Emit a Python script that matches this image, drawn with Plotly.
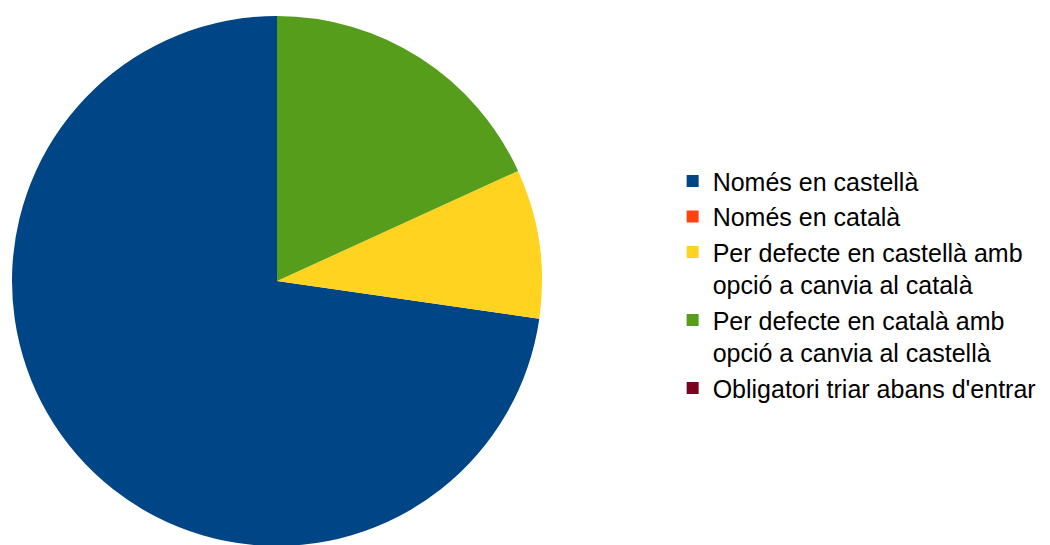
import plotly.graph_objects as go

labels = [
    "Només en castellà",
    "Només en català",
    "Per defecte en castellà amb<br>opció a canvia al català",
    "Per defecte en català amb<br>opció a canvia al castellà",
    "Obligatori triar abans d'entrar",
]
values = [8, 0, 1, 2, 0]
colors = ["#004586", "#ff420e", "#ffd320", "#579d1c", "#7e0021"]

fig = go.Figure(go.Pie(
    labels=labels,
    values=values,
    sort=False,
    direction="counterclockwise",
    rotation=98.18,
    marker=dict(colors=colors, line=dict(width=0)),
    textinfo="none",
    hoverinfo="label+value+percent",
    domain=dict(x=[4 / 1050, 534 / 1050], y=[7 / 545, 537 / 545]),
))

fig.update_layout(
    width=1050,
    height=545,
    margin=dict(l=0, r=0, t=0, b=0),
    paper_bgcolor="white",
    plot_bgcolor="white",
    font=dict(family="Liberation Sans, Arial, sans-serif", color="#000000"),
    legend=dict(
        x=0.633,
        y=0.492,
        xanchor="left",
        yanchor="middle",
        font=dict(size=25),
        valign="top",
        itemwidth=30,
        bgcolor="rgba(0,0,0,0)",
    ),
)

fig.write_html("out.html")
